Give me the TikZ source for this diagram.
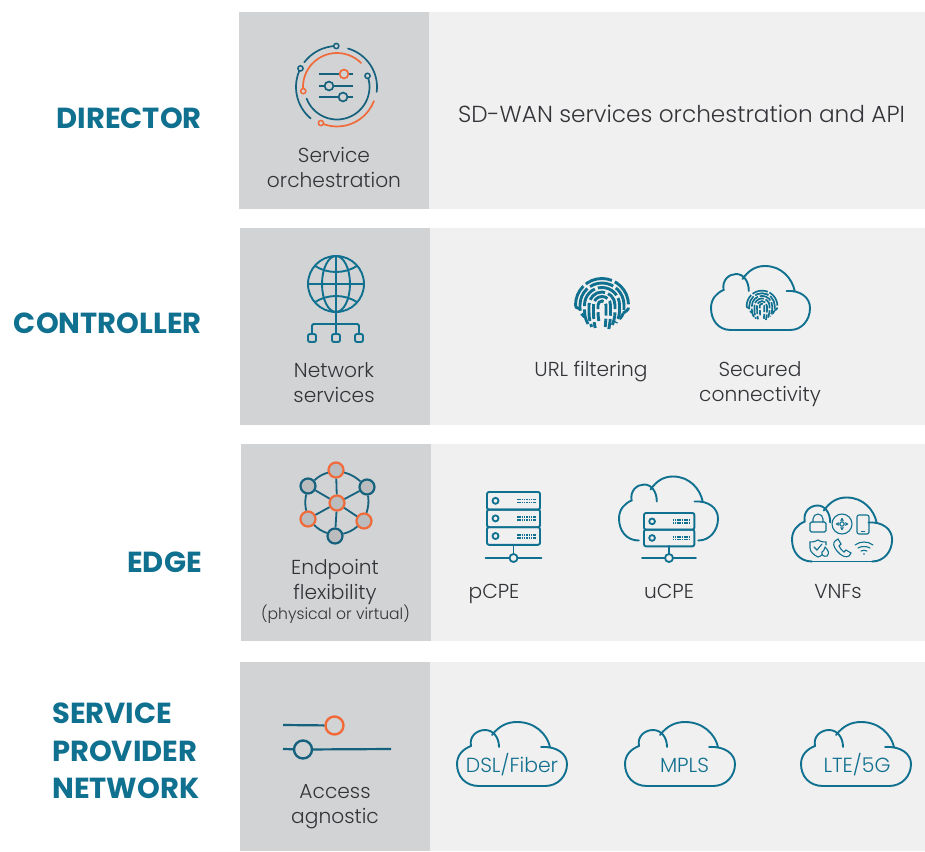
\documentclass[tikz,border=0pt]{standalone}
\usepackage{fontspec}
\setmainfont{Poppins}[UprightFont={* Light},BoldFont={* Bold}]
\usepackage{xcolor}
\usetikzlibrary{positioning,calc}
\definecolor{teal}{RGB}{16,112,143}
\definecolor{deepteal}{RGB}{22,98,126}
\definecolor{flame}{RGB}{241,106,58}
\definecolor{sidegray}{RGB}{209,211,212}
\definecolor{mainbg}{RGB}{240,240,240}
\definecolor{knobgray}{RGB}{186,188,190}
\definecolor{words}{RGB}{50,52,56}

\tikzset{
    sidepanel/.style={fill=sidegray,draw=none,inner sep=0,minimum width=190},
    mainpanel/.style={fill=mainbg,draw=none,inner sep=0},
    rowtitle/.style={text=teal,font=\fontsize{29}{37.5}\selectfont\bfseries,align=left,inner sep=0},
    caption/.style={text=words,font=\fontsize{20.2}{25}\selectfont,align=center,inner sep=0},
    bigcaption/.style={text=words,font=\fontsize{23.2}{28}\selectfont,inner sep=0},
    cloudword/.style={text=teal,font=\fontsize{20.4}{24}\selectfont,inner sep=0},
    iconline/.style={draw=teal,line width=1.9,line cap=round},
    thinline/.style={draw=teal,line width=1.1,line cap=round},
    ringdark/.style={draw=deepteal,line width=1.7,line cap=round},
    ringflame/.style={draw=flame,line width=1.7,line cap=round},
    netdark/.style={circle,draw=deepteal,fill=knobgray,line width=2.2,minimum size=15,inner sep=0},
    netflame/.style={circle,draw=flame,fill=knobgray,line width=2.2,minimum size=15,inner sep=0},
    netlink/.style={draw=deepteal,line width=1.8},
    cloudtop/.pic={
        \draw[iconline] (22,64) .. controls (8,64) and (0,54) .. (0,42) .. controls (0,33) and (6,27) .. (14,24)
            .. controls (12,14) and (20,8) .. (28,8) .. controls (36,8) and (42,15) .. (42,25);
        \draw[iconline] (35,13) .. controls (42,4) and (50,0) .. (60,0) .. controls (78,0) and (90,12) .. (93,25);
        \draw[iconline] (84,25) .. controls (100,24) and (110,32) .. (110,42) .. controls (110,54) and (101,64) .. (88,64);
    },
    cloudfull/.pic={
        \pic[transform shape] {cloudtop};
        \draw[iconline] (22,64) -- (88,64);
    },
    fprint/.pic={
        \foreach \rad/\low/\high/\gap in {4/16/22/3,8.5/23/24/9,13/22/20/15,17.5/19/18/6,22/12/14/20,26.5/4/8/30}{
            \pgfmathsetmacro{\dashon}{#1*(9+0.7*\rad)}
            \pgfmathsetmacro{\dashoff}{#1*3.2}
            \pgfmathsetmacro{\dashgap}{#1*\gap}
            \draw[teal,line width=#1*2.9,line cap=butt,dash pattern=on \dashon pt off \dashoff pt,dash phase=\dashgap pt]
                (-0.8*\rad,\low) .. controls (-\rad,0.6*\low) .. (-\rad,0) arc (180:360:\rad) .. controls (\rad,0.6*\high) .. (0.8*\rad,\high);
        }
    },
    serverunit/.pic={
        \draw[iconline,rounded corners=2] (0,0) rectangle (53,17.6);
        \draw[teal,line width=1.8] (8.5,8.8) circle (3);
        \foreach \dy in {7.5,10.5}{
            \draw[teal,line width=1.8,dash pattern=on 1.5pt off 0.8pt] (30,\dy) -- (49,\dy);
        }
    },
    sliderlink/.pic={
        \draw[iconline] (-28,0) -- (28,0);
        \node[circle,draw=teal,fill=mainbg,line width=1.8,minimum size=8,inner sep=0] {};
    },
}

\begin{document}
\begin{tikzpicture}[x=1pt,y=-1pt]
    \useasboundingbox (0,0) rectangle (925,851);

    \node[mainpanel,minimum width=496,minimum height=197] (directormain) at (677,110.5) {};
    \node[mainpanel,minimum width=495,minimum height=197] (controllermain) at (677.5,326.5) {};
    \node[mainpanel,minimum width=494,minimum height=197] (edgemain) at (678,542.5) {};
    \node[mainpanel,minimum width=495,minimum height=189] (spmain) at (677.5,756.5) {};
    \node[sidepanel,minimum height=197] (directorside) at (334.3,110.5) {};
    \node[sidepanel,minimum height=197] (controllerside) at (335,326.5) {};
    \node[sidepanel,minimum height=197] (edgeside) at (336,542.5) {};
    \node[sidepanel,minimum height=189] (spside) at (335,756.5) {};

    \node[rowtitle,anchor=east] (directortitle) at (202,118.5) {DIRECTOR};
    \node[rowtitle,anchor=east] (controllertitle) at (202,323.5) {CONTROLLER};
    \node[rowtitle,anchor=east] (edgetitle) at (202,562.5) {EDGE};
    \node[rowtitle,anchor=west] (sptitle) at (52,751) {SERVICE\\PROVIDER\\NETWORK};

    \node[caption] (orchlabel) at (334,167.5) {Service\\orchestration};
    \node[bigcaption] (apilabel) at (681.5,114) {SD-WAN services orchestration and API};
    \node[caption] (netlabel) at (334,382.5) {Network\\services};
    \node[caption,anchor=base] (urllabel) at (591,376) {URL filtering};
    \node[caption] (seclabel) at (760,384.5) {Secured\\connectivity};
    \node[caption] (endlabel) at (335,581.5) {Endpoint\\flexibility};
    \node[text=words,font=\fontsize{15.6}{18}\selectfont,inner sep=0] (physlabel) at (335.5,614) {(physical or virtual)};
    \node[caption,anchor=base] (pcpelabel) at (494,598) {pCPE};
    \node[caption,anchor=base] (ucpelabel) at (669,598) {uCPE};
    \node[caption,anchor=base] (vnflabel) at (838,598) {VNFs};
    \node[caption] (accesslabel) at (335,806.5) {Access\\agnostic};

    % orchestration icon
    \begin{scope}[shift={(337,87)}]
        \draw[ringflame] (173:34) arc (173:315:34);
        \draw[ringdark] (-20:32.5) arc (-20:159:32.5);
        \draw[ringdark] (269:41) arc (269:217:41);
        \draw[ringdark] (286:40) arc (286:367:40);
        \draw[ringdark] (207:41) arc (207:130:41);
        \draw[ringflame] (114:39.5) arc (114:21:39.5);
        \foreach \angle/\rad/\col in {173/34/flame,-20/32.5/deepteal,269/41/deepteal,207/41/deepteal,114/39.5/flame}{
            \draw[\col,fill=sidegray,line width=1.5] (\angle:\rad) circle (2.6);
        }
        \foreach \ypos/\xpos/\col in {-13/7/flame,-1/-8/deepteal,10/6/deepteal}{
            \draw[deepteal,line width=1.6] (-18,\ypos) -- (16,\ypos);
            \draw[\col,fill=sidegray,line width=1.7] (\xpos,\ypos) circle (4.4);
        }
    \end{scope}

    % globe icon
    \draw[iconline] (336,284) circle (28);
    \draw[iconline] (336,284) ellipse (14 and 28);
    \draw[iconline] (308,284) -- (364,284);
    \draw[iconline] (336,256) -- (336,312);
    \draw[iconline] (315,266) .. controls (328,274) and (344,274) .. (357,266);
    \draw[iconline] (315,302) .. controls (328,294) and (344,294) .. (357,302);
    \draw[iconline] (336,312) -- (336,333);
    \draw[iconline,rounded corners=1.5] (312,334) -- (312,324) -- (359,324) -- (359,334);
    \foreach \xpos in {312,336,359}{
        \draw[iconline,rounded corners=2] (\xpos-4,334) rectangle (\xpos+4,342);
    }

    % fingerprints
    \pic at (602,305) {fprint=1};
    \pic[xscale=0.9] at (711,266) {cloudfull};
    \pic[scale=0.58] at (762,306) {fprint=0.58};

    % endpoint graph
    \node[netflame] (nethub) at (337,503) {};
    \node[netflame] (nettop) at (336,470) {};
    \node[netdark] (netul) at (308,486) {};
    \node[netdark] (netur) at (367,487) {};
    \node[netflame] (netll) at (308,519) {};
    \node[netflame] (netlr) at (364,521) {};
    \node[netdark] (netbot) at (335,536) {};
    \foreach \leaf in {nettop,netul,netur,netll,netlr,netbot}{
        \draw[netlink] (nethub) -- (\leaf);
    }
    \draw[netlink] (nettop) to[bend right=12] (netul);
    \draw[netlink] (netul) to[bend right=12] (netll);
    \draw[netlink] (netll) to[bend right=12] (netbot);
    \draw[netlink] (netbot) to[bend right=12] (netlr);
    \draw[netlink] (netlr) to[bend right=12] (netur);
    \draw[netlink] (netur) to[bend right=12] (nettop);

    % server racks
    \pic at (487,492) {serverunit};
    \pic at (487,509.6) {serverunit};
    \pic at (487,527.2) {serverunit};
    \draw[iconline] (513.5,545) -- (513.5,558);
    \pic at (513.5,558) {sliderlink};

    \pic[xscale=0.9] at (619,476.5) {cloudtop};
    \pic[scale=0.95] at (644,513) {serverunit};
    \pic[scale=0.95] at (644,529.6) {serverunit};
    \draw[iconline] (669,546) -- (669,558);
    \pic[scale=0.96] at (669,558) {sliderlink};

    % vnf cloud
    \pic[xscale=0.91] at (792,497.5) {cloudfull};
    \draw[thinline,rounded corners=1.5] (810,522) rectangle (826,532);
    \draw[thinline] (813,522) -- (813,519) arc (180:360:5) -- (823,522);
    \draw[thinline] (842,524) circle (10);
    \foreach \angle in {0,90,180,270}{
        \draw[teal,fill=teal,rotate around={\angle:(842,524)}] (840.5,520.5) -- (843.5,520.5) -- (842,518) -- cycle;
    }
    \draw[thinline] (842,524) circle (2.2);
    \draw[thinline,rounded corners=2] (857,515) rectangle (869,534);
    \draw[thinline] (861.5,531.5) -- (864.5,531.5);
    \draw[thinline] (818,540) .. controls (814,542) and (812,542) .. (810,542) -- (810,548)
        .. controls (810,552) and (814,555) .. (818,557) .. controls (820,556) and (821,556) .. (822,555);
    \draw[thinline] (818,540) .. controls (821,542) and (824,542) .. (826,542) -- (826,545);
    \draw[thinline] (814,547) -- (817,550) -- (822,544);
    \draw[thinline] (825,547) .. controls (828,550) and (830,553) .. (827,556) .. controls (824,557) and (821,555) .. (822,552) .. controls (823,551) and (825,550) .. (825,547);
    \draw[thinline] (835,541) .. controls (833,543) and (833,546) .. (837,551) .. controls (841,556) and (846,558) .. (849,556) -- (851,553) -- (846,550) -- (844,552) .. controls (842,551) and (840,548) .. (839,546) -- (841,544) -- (838,539) -- cycle;
    \draw[thinline] (855,545) .. controls (860,541) and (868,541) .. (873,545);
    \draw[thinline] (858,548) .. controls (861,546) and (867,546) .. (870,548);
    \draw[thinline] (861,551) .. controls (863,550) and (865,550) .. (867,551);
    \fill[teal] (864,554) circle (0.9);

    % access sliders
    \coordinate (upperstart) at (283,725);
    \coordinate (lowerstart) at (283,749);
    \coordinate (lowerend) at (391,749);
    \node[circle,draw=flame,fill=sidegray,line width=2.4,minimum size=18,inner sep=0] (upperknob) at (334.5,725.5) {};
    \node[circle,draw=deepteal,fill=sidegray,line width=2.4,minimum size=18,inner sep=0] (lowerknob) at (303,749.5) {};
    \draw[deepteal,line width=2.2] (upperstart) -- (upperknob);
    \draw[deepteal,line width=2.2] (lowerstart) -- (lowerknob);
    \draw[deepteal,line width=2.2] (lowerknob) -- (lowerend);

    % access clouds
    \foreach \xpos in {457,625,801}{
        \pic at (\xpos,722) {cloudfull};
    }
    \node[cloudword] (dsl) at (512,765) {DSL/Fiber};
    \node[cloudword] (mpls) at (684.5,765) {MPLS};
    \node[cloudword] (lte) at (857,765) {LTE/5G};
\end{tikzpicture}
\end{document}
